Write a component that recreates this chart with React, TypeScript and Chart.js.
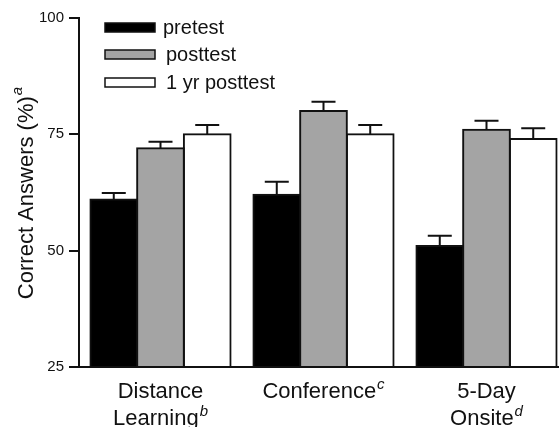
import React, { useEffect, useRef } from "react";
import { Chart, registerables } from "chart.js";

Chart.register(...registerables);

const categoryLines: string[][] = [["Distance", "Learning"], ["Conference"], ["5-Day", "Onsite"]];
const categorySup: string[] = ["b", "c", "d"];
const categories: string[] = ["Distance Learning", "Conference", "5-Day Onsite"];

const seriesNames: string[] = ["pretest", "posttest", "1 yr posttest"];
const pretest: number[] = [61, 62, 51];
const pretestErr: number[] = [1.4, 2.8, 2.2];
const posttest: number[] = [72, 80, 76];
const posttestErr: number[] = [1.4, 2.0, 1.9];
const yrPosttest: number[] = [75, 75, 74];
const yrPosttestErr: number[] = [2.0, 2.0, 2.3];

const yTicks: number[] = [25, 50, 75, 100];
const yTitle = "Correct Answers (%)";
const yTitleSup = "a";

const FONT = "'Liberation Sans', Arial, Helvetica, sans-serif";
const colors = ["#000000", "#a4a4a4", "#ffffff"];
const errs = [pretestErr, posttestErr, yrPosttestErr];

const drawSupText = (ctx: CanvasRenderingContext2D, text: string, sup: string, cx: number, baseline: number, size: number, supSize: number, raise: number) => {
  ctx.font = `${size}px ${FONT}`;
  const w1 = ctx.measureText(text).width;
  ctx.font = `italic ${supSize}px ${FONT}`;
  const w2 = sup ? ctx.measureText(sup).width + 1 : 0;
  const start = cx - (w1 + w2) / 2;
  ctx.textAlign = "left";
  ctx.textBaseline = "alphabetic";
  ctx.font = `${size}px ${FONT}`;
  ctx.fillText(text, start, baseline);
  if (sup) {
    ctx.font = `italic ${supSize}px ${FONT}`;
    ctx.fillText(sup, start + w1 + 1, baseline - raise);
  }
};

const customPlugin = {
  id: "custom",
  afterDatasetsDraw(chart: any) {
    const ctx: CanvasRenderingContext2D = chart.ctx;
    const yScale = chart.scales.y;
    ctx.save();
    ctx.strokeStyle = "#111";
    ctx.lineWidth = 2;
    chart.data.datasets.forEach((ds: any, i: number) => {
      const meta = chart.getDatasetMeta(i);
      meta.data.forEach((bar: any, j: number) => {
        const x = bar.x;
        const yTop = bar.y;
        const yE = yScale.getPixelForValue(ds.data[j] + errs[i][j]);
        ctx.beginPath();
        ctx.moveTo(x, yTop);
        ctx.lineTo(x, yE);
        ctx.moveTo(x - 12, yE);
        ctx.lineTo(x + 12, yE);
        ctx.stroke();
      });
    });
    ctx.restore();
  },
  afterDraw(chart: any) {
    const ctx: CanvasRenderingContext2D = chart.ctx;
    const xScale = chart.scales.x;
    ctx.save();
    ctx.fillStyle = "#111";
    // x labels
    categoryLines.forEach((lines, i) => {
      const cx = xScale.getPixelForValue(i);
      lines.forEach((line, k) => {
        const isLast = k === lines.length - 1;
        drawSupText(ctx, line, isLast ? categorySup[i] : "", cx, 398 + k * 27, 22, 15, 9);
      });
    });
    // y title
    ctx.save();
    ctx.translate(33, 193);
    ctx.rotate(-Math.PI / 2);
    drawSupText(ctx, yTitle, yTitleSup, 0, 0, 22, 15, 11);
    ctx.restore();
    // legend
    const boxX = 105;
    const rows = [23, 50, 78];
    seriesNames.forEach((name, i) => {
      const top = rows[i];
      ctx.fillStyle = colors[i];
      ctx.fillRect(boxX, top, 50, 9);
      ctx.strokeStyle = "#111";
      ctx.lineWidth = 1.5;
      ctx.strokeRect(boxX, top, 50, 9);
      ctx.fillStyle = "#111";
      ctx.font = `20px ${FONT}`;
      ctx.textAlign = "left";
      ctx.textBaseline = "alphabetic";
      ctx.fillText(name, i === 0 ? 163 : 166, top + 11);
    });
    ctx.restore();
  },
};

export default function App() {
  const ref = useRef<HTMLCanvasElement>(null);
  useEffect(() => {
    if (!ref.current) return;
    const barCommon = { borderColor: "#111", borderWidth: { top: 2, left: 2, right: 2, bottom: 0 }, inflateAmount: 1, borderSkipped: false };
    const chart = new Chart(ref.current, {
      type: "bar",
      data: {
        labels: categories,
        datasets: [
          { label: seriesNames[0], data: pretest, backgroundColor: colors[0], ...barCommon },
          { label: seriesNames[1], data: posttest, backgroundColor: colors[1], ...barCommon },
          { label: seriesNames[2], data: yrPosttest, backgroundColor: colors[2], ...barCommon },
        ],
      },
      options: {
        responsive: false,
        animation: false,
        devicePixelRatio: 1,
        layout: { padding: { left: 0, right: 12, top: 18, bottom: 0 } },
        plugins: { legend: { display: false }, tooltip: { enabled: false } },
        datasets: { bar: { categoryPercentage: 0.86, barPercentage: 1.0 } },
        scales: {
          x: {
            grid: { display: false },
            border: { display: true, color: "#111", width: 2, z: 1 },
            ticks: { display: false },
            afterFit: (s: any) => { s.height = 60; },
          },
          y: {
            min: 25,
            max: 100,
            afterBuildTicks: (s: any) => { s.ticks = yTicks.map((v) => ({ value: v })); },
            grid: { drawOnChartArea: false, drawTicks: true, tickLength: 10, color: "#111", lineWidth: 2 },
            border: { display: true, color: "#111", width: 2, z: 1 },
            ticks: { color: "#111", font: { family: FONT, size: 15 }, padding: 5 },
            afterFit: (s: any) => { s.width = 79; },
          },
        },
      },
      plugins: [customPlugin],
    } as any);
    return () => chart.destroy();
  }, []);
  return (
    <div style={{ position: "fixed", left: 0, top: 0, width: 559, height: 427, overflow: "hidden", background: "#fff" }}>
      <canvas ref={ref} width={580} height={427} style={{ display: "block" }} />
    </div>
  );
}
